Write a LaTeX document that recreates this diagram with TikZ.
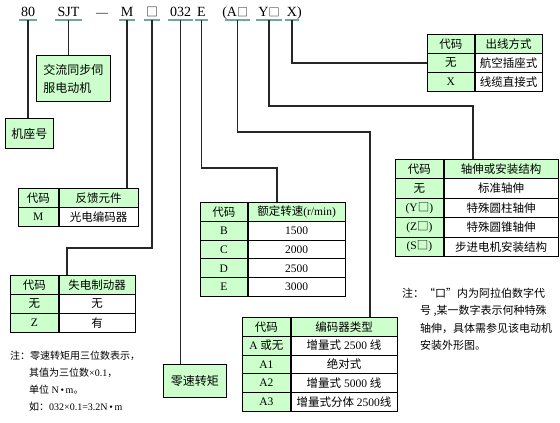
\documentclass[tikz,border=0pt]{standalone}
\usepackage{fontspec}
\setmainfont{Liberation Serif}
\newfontfamily\cjk{Noto Sans CJK SC}
\usetikzlibrary{positioning}
\newcommand{\zh}[1]{{\cjk #1}}
\definecolor{cellgreen}{RGB}{204,255,204}
\definecolor{ulteal}{RGB}{110,168,158}

\begin{document}
\begin{tikzpicture}[
    x=1pt, y=-1pt,
    hdcode/.style={anchor=south, inner xsep=2pt, inner ysep=3pt, text height=10pt, text depth=0pt, font=\fontsize{14}{14}\selectfont},
    uline/.style={draw=ulteal, line width=2.6pt},
    line/.style={draw=black!85, line width=1.7pt},
    greenbox/.style={rectangle, draw=black, fill=cellgreen, line width=0.8pt, anchor=north west, inner sep=0pt, font=\fontsize{12}{18}\selectfont},
    codecell/.style={rectangle, draw=black, fill=cellgreen, line width=0.7pt, anchor=north west, inner sep=0pt, font=\fontsize{11.5}{12}\selectfont},
    desccell/.style={codecell, fill=white},
    notetext/.style={anchor=north west, inner sep=0pt, align=left}
]
    \useasboundingbox (0,0) rectangle (560,423);

    % Model code
    \node [hdcode] (hd80) at (28,20) {80};
    \node [hdcode] (hdSJT) at (68.5,20) {SJT};
    \node [hdcode, font=\fontsize{12}{12}\selectfont] (hdDash) at (102,20) {—};
    \node [hdcode] (hdM) at (127,20) {M};
    \node [hdcode] (hdBox) at (152,20) {\zh{\fontsize{12}{12}\selectfont □}};
    \node [hdcode] (hd032) at (180.5,20) {032};
    \node [hdcode] (hdE) at (201.5,20) {E};
    \node [hdcode] (hdA) at (237.5,20) {\llap{(}A\zh{\fontsize{11}{11}\selectfont □}};
    \node [hdcode] (hdY) at (269,20) {Y\zh{\fontsize{11}{11}\selectfont □}};
    \node [hdcode] (hdX) at (292,20) {X\rlap{)}};
    \foreach \h in {hd80, hdSJT, hdM, hdBox, hd032, hdE, hdA, hdY, hdX}
        \draw [uline] (\h.south west) -- (\h.south east);

    % Boxes
    \node [greenbox, minimum width=48, minimum height=30] (base) at (5,118) {\zh{机座号}};
    \node [greenbox, minimum width=74, minimum height=46, align=left] (motor) at (36,55) {\zh{交流同步伺}\\\zh{服电动机}};
    \node [greenbox, minimum width=63, minimum height=33] (zero) at (163,364) {\zh{零速转矩}};

    % Outlet table
    \node [codecell, minimum width=47, minimum height=19] (xtabH1) at (427,34) {\zh{代码}};
    \node [codecell, minimum width=67, minimum height=19] (xtabH2) at (xtabH1.north east) {\zh{出线方式}};
    \foreach \cd/\ds [count=\i] in {{\zh{无}}/{\zh{航空插座式}}, X/{\zh{线缆直接式}}} {
        \node [codecell, minimum width=47, minimum height=19] (xtabC\i) at ({427},{34+19*\i}) {\cd};
        \node [desccell, minimum width=67, minimum height=19] (xtabD\i) at (xtabC\i.north east) {\ds};
    }

    % Shaft table
    \node [codecell, minimum width=48, minimum height=19.4] (ytabH1) at (395,159) {\zh{代码}};
    \node [codecell, minimum width=114, minimum height=19.4] (ytabH2) at (ytabH1.north east) {\zh{轴伸或安装结构}};
    \foreach \cd/\ds [count=\i] in {{\zh{无}}/{\zh{标准轴伸}}, {(Y\zh{□})}/{\zh{特殊圆柱轴伸}}, {(Z\zh{□})}/{\zh{特殊圆锥轴伸}}, {(S\zh{□})}/{\zh{步进电机安装结构}}} {
        \node [codecell, minimum width=48, minimum height=19.4] (ytabC\i) at ({395},{159+19.4*\i}) {\cd};
        \node [desccell, minimum width=114, minimum height=19.4] (ytabD\i) at (ytabC\i.north east) {\ds};
    }

    % Speed table
    \node [codecell, minimum width=47, minimum height=19] (etabH1) at (200,202) {\zh{代码}};
    \node [codecell, minimum width=97, minimum height=19] (etabH2) at (etabH1.north east) {\zh{额定转速}(r/min)};
    \foreach \cd/\ds [count=\i] in {B/1500, C/2000, D/2500, E/3000} {
        \node [codecell, minimum width=47, minimum height=19] (etabC\i) at ({200},{202+18.8*\i}) {\cd};
        \node [desccell, minimum width=97, minimum height=19] (etabD\i) at (etabC\i.north east) {\ds};
    }

    % Encoder type table
    \node [codecell, minimum width=48, minimum height=18.8] (atabH1) at (242,317) {\zh{代码}};
    \node [codecell, minimum width=106, minimum height=18.8] (atabH2) at (atabH1.north east) {\zh{编码器类型}};
    \foreach \cd/\ds [count=\i] in {{A \zh{或无}}/{\zh{增量式} 2500 \zh{线}}, A1/{\zh{绝对式}}, A2/{\zh{增量式} 5000 \zh{线}}, A3/{\zh{增量式分体} 2500\zh{线}}} {
        \node [codecell, minimum width=48, minimum height=18.8] (atabC\i) at ({242},{317+18.8*\i}) {\cd};
        \node [desccell, minimum width=106, minimum height=18.8] (atabD\i) at (atabC\i.north east) {\ds};
    }

    % Feedback table
    \node [codecell, minimum width=40, minimum height=19] (mtabH1) at (18,188) {\zh{代码}};
    \node [codecell, minimum width=79, minimum height=19] (mtabH2) at (mtabH1.north east) {\zh{反馈元件}};
    \node [codecell, minimum width=40, minimum height=19] (mtabC1) at (18,207) {M};
    \node [desccell, minimum width=79, minimum height=19] (mtabD1) at (mtabC1.north east) {\zh{光电编码器}};

    % Brake table
    \node [codecell, minimum width=48, minimum height=19] (ztabH1) at (10,275) {\zh{代码}};
    \node [codecell, minimum width=76, minimum height=19] (ztabH2) at (ztabH1.north east) {\zh{失电制动器}};
    \foreach \cd/\ds [count=\i] in {{\zh{无}}/{\zh{无}}, Z/{\zh{有}}} {
        \node [codecell, minimum width=48, minimum height=19] (ztabC\i) at ({10},{275+19*\i}) {\cd};
        \node [desccell, minimum width=76, minimum height=19] (ztabD\i) at (ztabC\i.north east) {\ds};
    }

    % Notes
    \node [notetext, font=\fontsize{10}{17}\selectfont] (torqueNote) at (10,351) {
        \zh{注：零速转矩用三位数表示，}\\
        \hspace*{19pt}\zh{其值为三位数}×0.1\zh{，}\\
        \hspace*{19pt}\zh{单位} N\,•\,m\zh{。}\\
        \hspace*{19pt}\zh{如：}032×0.1=3.2N\,•\,m
    };
    \node [notetext, font=\fontsize{11}{17.3}\selectfont] (shaftNote) at (402,288) {
        \zh{注：“口”内为阿拉伯数字代}\\
        \hspace*{18pt}\zh{号 ,某一数字表示何种特殊}\\
        \hspace*{18pt}\zh{轴伸，具体需参见该电动机}\\
        \hspace*{18pt}\zh{安装外形图。}
    };

    % Leaders
    \coordinate (zbend) at (67,248);
    \coordinate (ebend) at (277,168);
    \coordinate (abend) at (370,132);
    \coordinate (ybend) at (473,106);
    \draw [line] (hd80.south) -- (hd80.south |- base.north);
    \draw [line] (hdSJT.south) -- (hdSJT.south |- motor.north);
    \draw [line] (hdM.south) -- (hdM.south |- mtabH2.north);
    \draw [line] (hdBox.south) |- (zbend) -- (zbend |- ztabH2.north);
    \draw [line] (hd032.south) -- (hd032.south |- zero.north);
    \draw [line] (hdE.south) |- (ebend) -- (ebend |- etabH2.north);
    \draw [line] (hdA.south) |- (abend) -- (abend |- atabH2.north);
    \draw [line] (hdY.south) |- (ybend) -- (ybend |- ytabH2.north);
    \draw [line] (hdX.south) |- (xtabC1.west);

\end{tikzpicture}
\end{document}
